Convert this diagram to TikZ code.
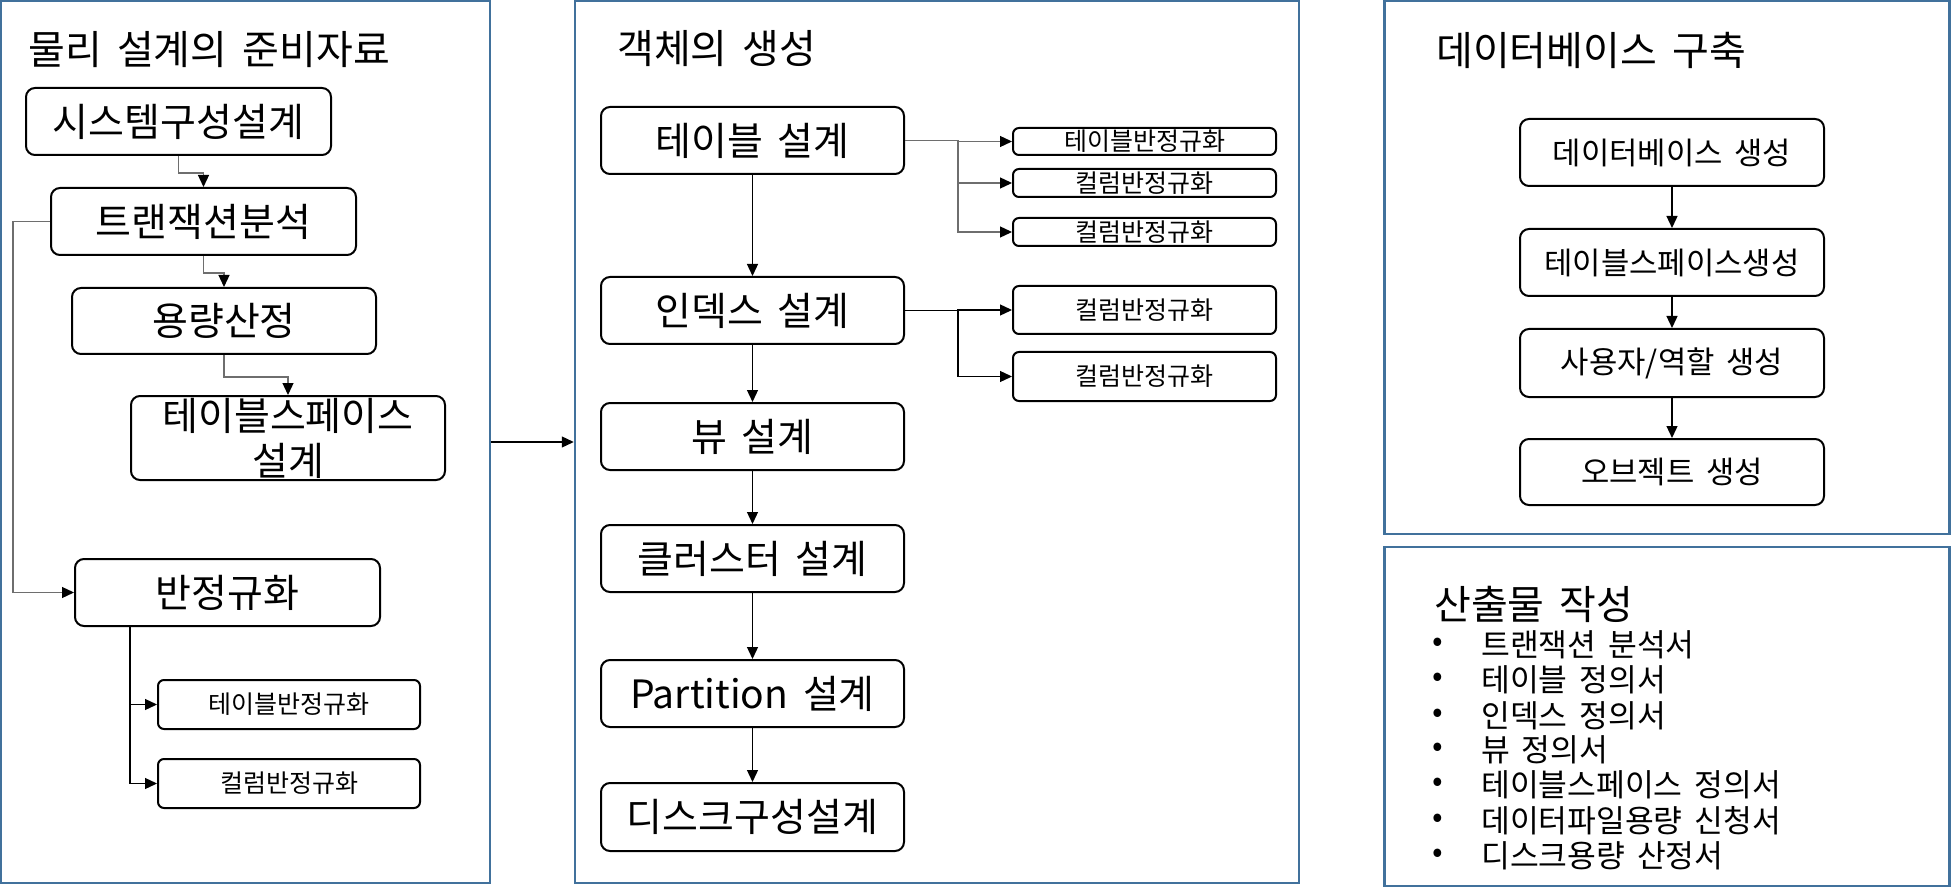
\documentclass[tikz,border=0pt]{standalone}
\usepackage{fontspec}
\setmainfont{Noto Sans CJK KR}[WordSpace=1.7]
\usetikzlibrary{arrows.meta}
\definecolor{panelblue}{RGB}{65,113,156}
\definecolor{conngray}{RGB}{110,110,110}
\tikzset{
  panel/.style={draw=panelblue, line width=2.5pt, rectangle, inner sep=0pt},
  bigbox/.style={draw, line width=2pt, rounded corners=9pt, fill=white, inner sep=0pt, align=center,
    font=\fontsize{39}{45}\selectfont},
  medbox/.style={draw, line width=2pt, rounded corners=9pt, fill=white, inner sep=0pt, align=center,
    font=\fontsize{30.8}{36}\selectfont},
  smallbox/.style={draw, line width=2pt, rounded corners=6pt, fill=white, inner sep=0pt, align=center,
    font=\fontsize{25}{29}\selectfont},
  ptitle/.style={anchor=west, inner sep=0pt, font=\fontsize{40}{46}\selectfont},
  btext/.style={anchor=west, inner sep=0pt, font=\fontsize{31.3}{36}\selectfont},
  conn/.style={line width=1.3pt, -{Triangle[length=12pt,width=11pt,color=black]}},
  gconn/.style={conn, draw=conngray},
}
\begin{document}
\begin{tikzpicture}[x=1pt,y=-1pt]
\useasboundingbox (0,0) rectangle (1951,890);
% panels
\node[panel, minimum width=489pt, minimum height=882pt] (P1) at (245.5,442) {};
\node[panel, minimum width=724pt, minimum height=882pt] (P2) at (937,442) {};
\node[panel, minimum width=565pt, minimum height=533pt] (P3) at (1667,267.5) {};
\node[panel, minimum width=565pt, minimum height=339pt] (P4) at (1667,716.5) {};
% titles
\node[ptitle] (T1) at (28,50) {물리 설계의 준비자료};
\node[ptitle] (T2) at (617,49) {객체의 생성};
\node[ptitle] (T3) at (1436,50) {데이터베이스 구축};
\node[ptitle] (T4) at (1434,604) {산출물 작성};
% left panel
\node[bigbox, minimum width=305pt, minimum height=67pt] (A) at (178.5,121.5) {시스템구성설계};
\node[bigbox, minimum width=305pt, minimum height=67pt] (B) at (203.5,221.5) {트랜잭션분석};
\node[bigbox, minimum width=304pt, minimum height=66pt] (C) at (224,321) {용량산정};
\node[bigbox, minimum width=314pt, minimum height=84pt] (D) at (288,438) {테이블스페이스\\설계};
\node[bigbox, minimum width=305pt, minimum height=67pt] (E) at (227.5,592.5) {반정규화};
\node[smallbox, minimum width=262pt, minimum height=49pt] (F) at (289,704.5) {테이블반정규화};
\node[smallbox, minimum width=262pt, minimum height=49pt] (G) at (289,783.5) {컬럼반정규화};
% middle panel
\node[bigbox, minimum width=303pt, minimum height=67pt] (M1) at (752.5,140.5) {테이블 설계};
\node[bigbox, minimum width=303pt, minimum height=67pt] (M2) at (752.5,310.5) {인덱스 설계};
\node[bigbox, minimum width=303pt, minimum height=67pt] (M3) at (752.5,436.5) {뷰 설계};
\node[bigbox, minimum width=303pt, minimum height=67pt] (M4) at (752.5,558.5) {클러스터 설계};
\node[bigbox, minimum width=303pt, minimum height=67pt] (M5) at (752.5,693.5) {Partition 설계};
\node[bigbox, minimum width=303pt, minimum height=68pt] (M6) at (752.5,817) {디스크구성설계};
\node[smallbox, minimum width=263pt, minimum height=27pt] (S1) at (1144.5,141.5) {테이블반정규화};
\node[smallbox, minimum width=263pt, minimum height=28pt] (S2) at (1144.5,183) {컬럼반정규화};
\node[smallbox, minimum width=263pt, minimum height=28pt] (S3) at (1144.5,232) {컬럼반정규화};
\node[smallbox, minimum width=263pt, minimum height=48pt] (S4) at (1144.5,310) {컬럼반정규화};
\node[smallbox, minimum width=263pt, minimum height=49pt] (S5) at (1144.5,376.5) {컬럼반정규화};
% right panel
\node[medbox, minimum width=304pt, minimum height=67pt] (R1) at (1672,152.5) {데이터베이스 생성};
\node[medbox, minimum width=304pt, minimum height=67pt] (R2) at (1672,262.5) {테이블스페이스생성};
\node[medbox, minimum width=304pt, minimum height=68pt] (R3) at (1672,363) {사용자/역할 생성};
\node[medbox, minimum width=304pt, minimum height=66pt] (R4) at (1672,472) {오브젝트 생성};
% bullet list
\foreach \i/\yy/\txt in {1/645/트랜잭션 분석서, 2/680/테이블 정의서, 3/716/인덱스 정의서, 4/750/뷰 정의서,
  5/785/테이블스페이스 정의서, 6/821/데이터파일용량 신청서, 7/856/디스크용량 산정서}{
  \node[btext] (b\i) at (1432,\yy) {•};
  \node[btext] (l\i) at (1481,\yy) {\txt};
}
% connectors left
\draw[gconn] (A.south) -- ++(0,17) -| (B.north);
\draw[gconn] (B.south) -- ++(0,17) -| (C.north);
\draw[gconn] (C.south) -- ++(0,22) -| (D.north);
\draw[gconn] (B.west) -- ++(-37,0) |- (E.west);
\draw[conn] ([xshift=56pt]E.south west) |- (F.west);
\draw[conn] ([xshift=56pt]E.south west) |- (G.west);
\draw[conn] (P1.east) -- (P2.west);
% connectors middle
\draw[conn] (M1) -- (M2);
\draw[conn] (M2) -- (M3);
\draw[conn] (M3) -- (M4);
\draw[conn] (M4) -- (M5);
\draw[conn] (M5) -- (M6);
\draw[gconn] (M1.east) -- ++(53,0) |- (S1.west);
\draw[gconn] (M1.east) -- ++(53,0) |- (S2.west);
\draw[gconn] (M1.east) -- ++(53,0) |- (S3.west);
\draw[conn] (M2.east) -- ++(53,0) |- (S4.west);
\draw[conn] (M2.east) -- ++(53,0) |- (S5.west);
% connectors right
\draw[conn] (R1) -- (R2);
\draw[conn] (R2) -- (R3);
\draw[conn] (R3) -- (R4);
\end{tikzpicture}
\end{document}
